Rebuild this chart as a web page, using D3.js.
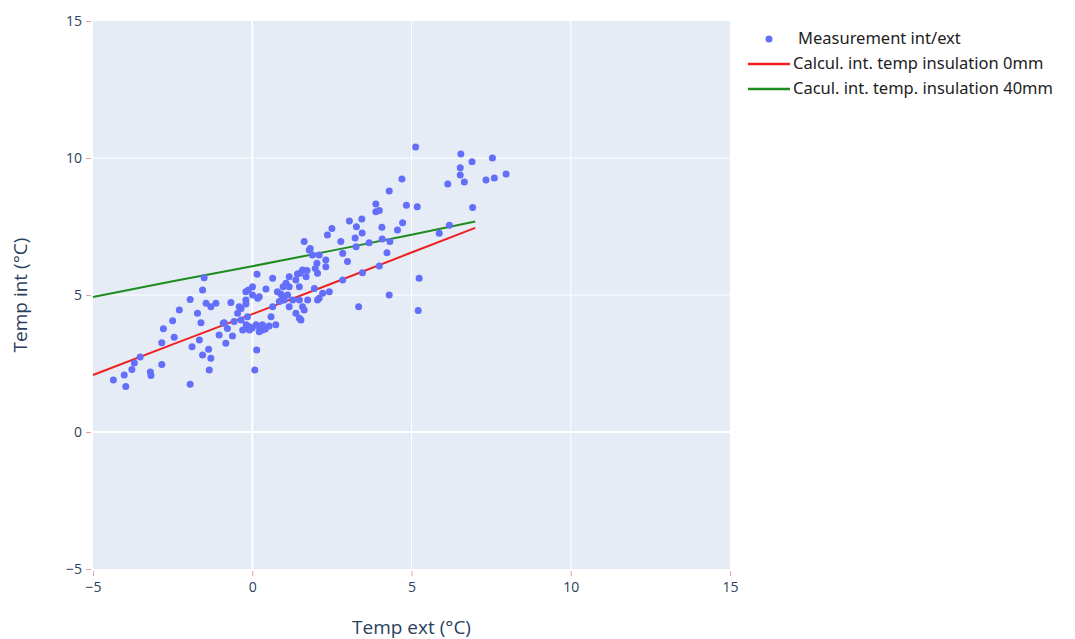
<!DOCTYPE html>
<html>
<head>
<meta charset="UTF-8">
<script src="https://d3js.org/d3.v7.min.js"></script>
<style>
  body { margin: 0; background: #fff; }
  .tick text { font-family: "Open Sans", sans-serif; font-size: 14px; fill: #2a3f5f; }
  .legend text { font-family: "Noto Sans", sans-serif; font-size: 16.5px; fill: #222; }
</style>
</head>
<body>
<script>
// measurement points: temp ext (°C) / temp int (°C)
const tempExt = [-4.36,-3.97,-4.02,-3.78,-3.70,-3.52,-3.20,-3.18,-2.84,-2.84,-2.79,-2.45,-2.50,-2.29,-1.95,-1.95,-1.89,-1.72,-1.66,-1.61,
  -1.56,-1.51,-1.45,-1.56,-1.37,-1.30,-1.35,-1.14,-1.30,-0.88,-1.04,-0.83,-0.62,-0.67,-0.46,-0.35,-0.20,-0.30,-0.09,0.12,
  0.32,-0.35,-0.57,0.59,0.74,0.01,0.15,-0.12,0.22,0.43,0.64,0.79,0.95,0.08,0.14,-0.78,-0.91,-0.20,-0.15,1.16,
  1.16,1.37,1.63,1.58,1.69,1.53,1.16,1.27,1.37,1.79,1.89,2.10,2.31,2.31,2.03,1.72,1.42,0.97,0.90,-0.20,
  -0.41,0.01,0.17,1.11,1.00,0.85,1.48,1.63,1.48,0.32,-0.09,0.22,1.74,2.10,2.42,2.84,2.99,3.26,3.34,1.95,
  2.21,2.36,2.50,2.78,3.05,3.44,3.27,3.45,3.67,2.84,1.98,2.05,1.50,1.06,1.48,2.05,3.46,3.99,4.23,4.56,
  4.72,4.07,5.24,4.30,5.21,5.87,6.19,6.92,1.58,0.64,1.82,5.13,4.70,4.30,3.88,3.99,3.88,4.84,5.18,6.55,
  6.90,6.53,6.53,6.66,6.14,7.54,7.97,7.60,7.34,4.08,4.32,3.23,-0.19,0.00,0.22,0.41,0.53];
const tempInt = [1.90,1.66,2.08,2.28,2.52,2.74,2.19,2.06,2.46,3.26,3.77,3.46,4.06,4.45,4.84,1.74,3.11,4.33,3.36,3.99,
  5.18,5.63,4.70,2.81,3.02,2.69,2.26,4.70,4.57,3.99,3.54,3.24,3.50,4.73,4.33,4.51,4.67,3.72,3.84,3.91,
  3.72,4.09,4.03,4.21,3.91,5.30,5.76,5.18,4.94,5.22,5.61,5.12,4.94,2.26,2.99,3.78,3.97,5.12,4.21,5.67,
  5.30,5.55,6.95,5.91,5.67,4.09,4.57,4.82,4.33,6.64,6.46,6.46,6.28,6.03,6.16,5.89,5.77,5.30,5.04,4.82,
  4.57,5.00,4.88,5.00,4.82,4.76,4.82,4.45,4.15,3.91,3.72,3.66,4.82,4.88,5.12,5.55,6.22,6.76,4.57,5.24,
  5.06,7.19,7.43,6.95,7.70,7.77,7.49,7.26,6.91,6.52,5.97,5.79,5.79,5.43,5.30,4.82,5.81,6.06,6.54,7.37,
  7.64,7.47,5.61,5.00,4.43,7.25,7.55,8.19,4.57,4.57,6.70,10.40,9.23,8.80,8.32,8.08,8.04,8.28,8.22,10.15,
  9.86,9.64,9.38,9.12,9.05,10.00,9.42,9.27,9.20,7.04,6.95,7.08,3.91,3.80,3.83,3.76,3.87];

// calculated interior temperature
const calcExt = [-5, -2.5, 0, 2.5, 5, 7];
const calc0mm = [2.08, 3.2, 4.3, 5.42, 6.55, 7.45];
const calc40mm = [4.93, 5.5, 6.05, 6.62, 7.2, 7.68];

const xTicks = [-5, 0, 5, 10, 15];
const yTicks = [-5, 0, 5, 10, 15];

const legendNames = ["Measurement int/ext", "Calcul. int. temp insulation 0mm", "Cacul. int. temp. insulation 40mm"];

const width = 1075, height = 639;
const margin = { left: 93, right: 345, top: 21, bottom: 70 };
const plotW = width - margin.left - margin.right;
const plotH = height - margin.top - margin.bottom;

const svg = d3.select("body").append("svg")
  .attr("width", width)
  .attr("height", height);

const x = d3.scaleLinear().domain([-5, 15]).range([0, plotW]);
const y = d3.scaleLinear().domain([-5, 15]).range([plotH, 0]);

const g = svg.append("g").attr("transform", `translate(${margin.left},${margin.top})`);

g.append("rect").attr("width", plotW).attr("height", plotH).attr("fill", "#e5ecf6");

// grid
g.selectAll(".gx").data(xTicks.slice(1, -1)).join("line")
  .attr("x1", d => x(d)).attr("x2", d => x(d))
  .attr("y1", 0).attr("y2", plotH)
  .attr("stroke", "#fff").attr("stroke-width", d => d === 0 ? 2 : 1);
g.selectAll(".gy").data(yTicks.slice(1, -1)).join("line")
  .attr("class", "gy")
  .attr("y1", d => y(d)).attr("y2", d => y(d))
  .attr("x1", 0).attr("x2", plotW)
  .attr("stroke", "#fff").attr("stroke-width", d => d === 0 ? 2 : 1);

// axes
const fmt = d => d < 0 ? "\u2212" + Math.abs(d) : String(d);
const axisX = d3.axisBottom(x).tickValues(xTicks).tickFormat(fmt).tickSize(5).tickPadding(6);
const axisY = d3.axisLeft(y).tickValues(yTicks).tickFormat(fmt).tickSize(5).tickPadding(4);

const gX = g.append("g").attr("transform", `translate(0,${plotH + 2})`).call(axisX);
const gY = g.append("g").attr("transform", "translate(-2,0)").call(axisY);
[gX, gY].forEach(a => {
  a.select(".domain").remove();
  a.selectAll(".tick line").attr("stroke", "#e8a0a8");
});

// lines
const line = d3.line().x(d => x(d[0])).y(d => y(d[1]));
g.append("path").datum(calcExt.map((v, i) => [v, calc0mm[i]]))
  .attr("d", line).attr("fill", "none").attr("stroke", "#f02020").attr("stroke-width", 2);
g.append("path").datum(calcExt.map((v, i) => [v, calc40mm[i]]))
  .attr("d", line).attr("fill", "none").attr("stroke", "#1e8c1e").attr("stroke-width", 2);

// points
g.selectAll("circle.pt").data(tempExt.map((v, i) => [v, tempInt[i]])).join("circle")
  .attr("class", "pt")
  .attr("cx", d => x(d[0])).attr("cy", d => y(d[1]))
  .attr("r", 3.5).attr("fill", "#636efa");

// axis titles
svg.append("text")
  .attr("x", margin.left + plotW / 2).attr("y", 634)
  .attr("text-anchor", "middle")
  .attr("font-family", "'Open Sans', sans-serif").attr("font-size", 19).attr("fill", "#2a3f5f")
  .text("Temp ext (°C)");
svg.append("text")
  .attr("transform", `translate(27,${margin.top + plotH / 2}) rotate(-90)`)
  .attr("text-anchor", "middle")
  .attr("font-family", "'Open Sans', sans-serif").attr("font-size", 19).attr("fill", "#2a3f5f")
  .text("Temp int (°C)");

// legend
const leg = svg.append("g").attr("class", "legend").attr("transform", "translate(748,39)");
legendNames.forEach((name, i) => {
  const row = leg.append("g").attr("transform", `translate(0,${i * 25})`);
  if (i === 0) {
    row.append("circle").attr("cx", 21).attr("cy", 0).attr("r", 3.5).attr("fill", "#636efa");
  } else {
    row.append("line").attr("x1", 0).attr("x2", 42).attr("y1", 0).attr("y2", 0)
      .attr("stroke", i === 1 ? "#f02020" : "#1e8c1e").attr("stroke-width", 2.5);
  }
  row.append("text").attr("x", i === 0 ? 50 : 45).attr("y", 5).text(name);
});
</script>
</body>
</html>
